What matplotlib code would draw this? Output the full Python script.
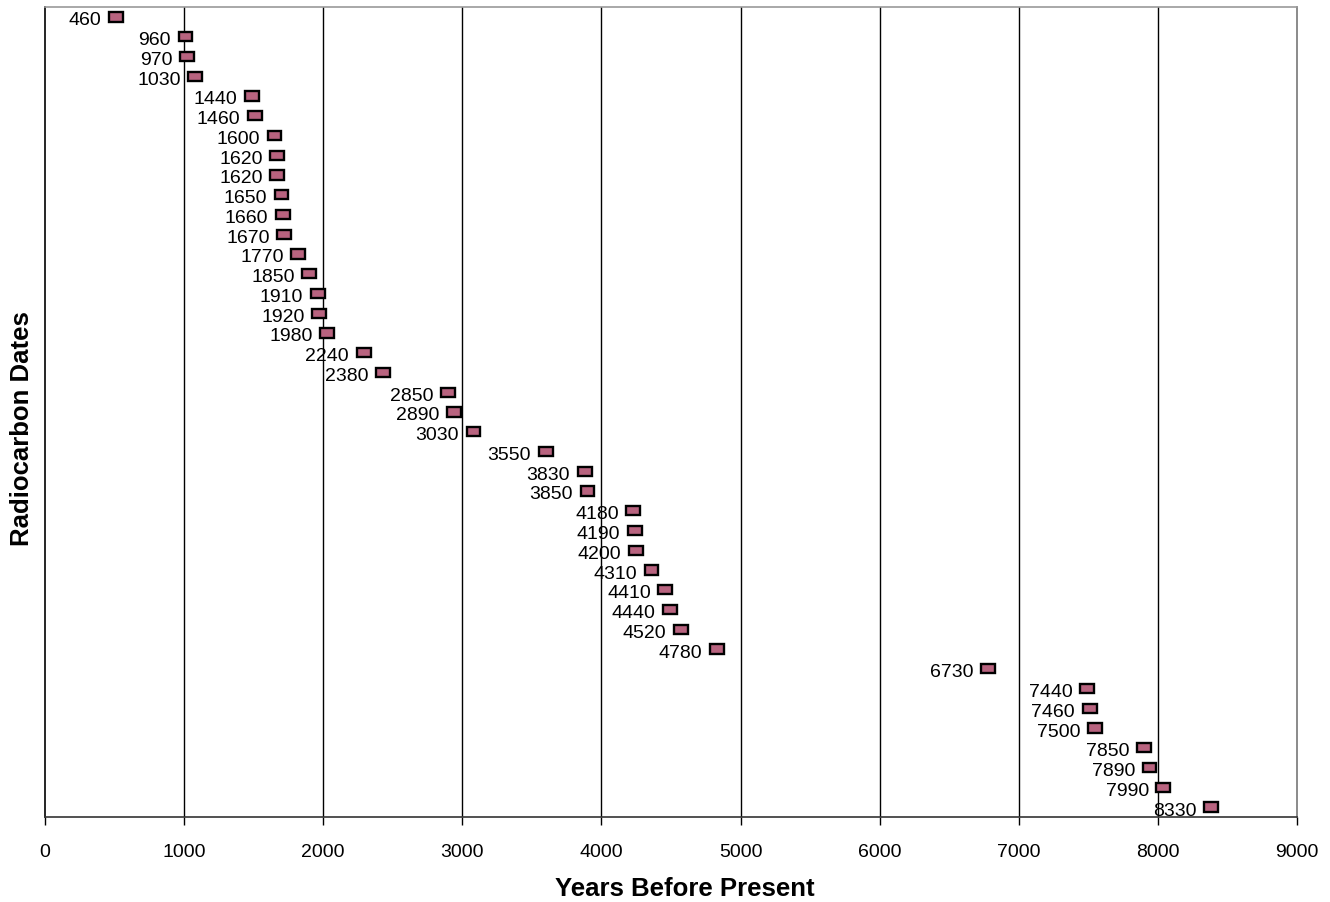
import matplotlib
matplotlib.use("Agg")
import matplotlib.pyplot as plt

plt.rcParams['font.family'] = ['Liberation Sans', 'DejaVu Sans']

dates = [460, 960, 970, 1030, 1440, 1460, 1600, 1620, 1620, 1650, 1660, 1670,
         1770, 1850, 1910, 1920, 1980, 2240, 2380, 2850, 2890, 3030, 3550, 3830,
         3850, 4180, 4190, 4200, 4310, 4410, 4440, 4520, 4780, 6730, 7440, 7460,
         7500, 7850, 7890, 7990, 8330]
span = 100
xticks = [0, 1000, 2000, 3000, 4000, 5000, 6000, 7000, 8000, 9000]

W, H = 1330, 903
fig = plt.figure(figsize=(W/100, H/100), dpi=100)
ax = fig.add_axes([45/W, 1-818/H, (1297-45)/W, (818-8)/H])

ypos = list(range(len(dates)))
ax.barh(ypos, [span]*len(dates), left=dates, height=0.47,
        color='#B8637F', edgecolor='black', linewidth=1.7, zorder=3)
for y, d in zip(ypos, dates):
    ax.text(d - 55, y + 0.15, str(d), ha='right', va='center', fontsize=14, zorder=4)

ax.set_xlim(0, 9000)
ax.set_ylim(len(dates) - 0.5, -0.5)
ax.set_xticks(xticks)
ax.set_xticklabels([str(t) for t in xticks], fontsize=14)
ax.set_yticks([])
for t in xticks[1:-1]:
    ax.axvline(t, color='black', linewidth=1.0, zorder=1)

ax.spines['left'].set_color('black')
ax.spines['bottom'].set_color('#333333')
ax.spines['top'].set_color('#999999')
ax.spines['right'].set_color('#777777')
for s in ax.spines.values():
    s.set_linewidth(1.2)
ax.tick_params(axis='x', direction='out', length=6, width=1, pad=13, colors='black')

fig.text(685/W, 1-889/H, 'Years Before Present', fontsize=18.5, fontweight='bold',
         ha='center', va='center')
fig.text(22/W, 1-429/H, 'Radiocarbon Dates', fontsize=18.5, fontweight='bold',
         ha='center', va='center', rotation=90)

fig.savefig('out.png', dpi=100)
